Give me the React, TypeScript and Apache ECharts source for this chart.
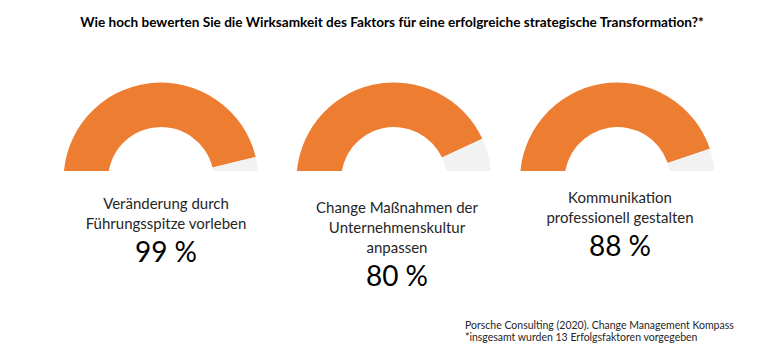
import React, { useEffect, useRef } from "react";
import * as echarts from "echarts";

// Gauge categories (label text) and the percentages printed under each gauge
const categories = [
  "Veränderung durch\nFührungsspitze vorleben",
  "Change Maßnahmen der\nUnternehmenskultur\nanpassen",
  "Kommunikation\nprofessionell gestalten",
];
const percentValues = [99, 80, 88];
// Share (in %) of each half ring that is drawn orange
const arcFilled = [92.4, 86.1, 89.6];

const titleText =
  "Wie hoch bewerten Sie die Wirksamkeit des Faktors für eine erfolgreiche strategische Transformation?*";
const sourceLines = [
  "Porsche Consulting (2020). Change Management Kompass",
  "*insgesamt wurden 13 Erfolgsfaktoren vorgegeben",
];

const ORANGE = "#ED7D31";
const GREY = "#F2F2F2";
const FONT = "Lato, 'Open Sans', sans-serif";

const centersX = [161, 394, 617.5];
const centerY = 180;
const labelCenterX = [166, 397, 620];
const labelTopY = [193, 197, 187];

export default function App() {
  const ref = useRef<HTMLDivElement>(null);

  useEffect(() => {
    document.body.style.margin = "0";
    if (!ref.current) return;
    const chart = echarts.init(ref.current, undefined, { renderer: "svg" });

    const series = categories.map((_, i) => ({
      type: "pie",
      center: [centersX[i], centerY],
      radius: [53, 97.5],
      startAngle: 180,
      clockwise: true,
      silent: true,
      label: { show: false },
      labelLine: { show: false },
      emphasis: { disabled: true },
      itemStyle: { borderWidth: 0 },
      data: [
        { value: arcFilled[i], itemStyle: { color: ORANGE } },
        { value: 100 - arcFilled[i], itemStyle: { color: GREY } },
        { value: 100, itemStyle: { color: "rgba(0,0,0,0)" } },
      ],
    }));

    const graphics: any[] = [
      {
        type: "rect",
        shape: { x: 0, y: 171, width: 780, height: 11 },
        style: { fill: "#ffffff" },
        z: 100,
        silent: true,
      },
      {
        type: "text",
        x: 392,
        y: 22,
        z: 110,
        style: {
          text: titleText,
          font: `bold 13.6px ${FONT}`,
          fill: "#000000",
          textAlign: "center",
          textVerticalAlign: "middle",
        },
      },
    ];

    categories.forEach((cat, i) => {
      const lines = cat.split("\n");
      lines.forEach((ln, j) => {
        graphics.push({
          type: "text",
          x: labelCenterX[i],
          y: labelTopY[i] + 10 + j * 20,
          z: 110,
          style: {
            text: ln,
            font: `15px ${FONT}`,
            fill: "#262626",
            textAlign: "center",
            textVerticalAlign: "middle",
          },
        });
      });
      graphics.push({
        type: "text",
        x: labelCenterX[i],
        y: labelTopY[i] + 8 + lines.length * 20 + 10,
        z: 110,
        style: {
          text: `${percentValues[i]} %`,
          font: `28px ${FONT}`,
          fill: "#000000",
          textAlign: "center",
          textVerticalAlign: "middle",
        },
      });
    });

    sourceLines.forEach((ln, j) => {
      graphics.push({
        type: "text",
        x: 465,
        y: 325 + j * 12,
        z: 110,
        style: {
          text: ln,
          font: `10.5px ${FONT}`,
          fill: "#262626",
          textAlign: "left",
          textVerticalAlign: "middle",
        },
      });
    });

    chart.setOption({
      animation: false,
      backgroundColor: "#ffffff",
      series,
      graphic: graphics,
    });

    return () => chart.dispose();
  }, []);

  return <div ref={ref} style={{ width: 780, height: 350 }} />;
}
